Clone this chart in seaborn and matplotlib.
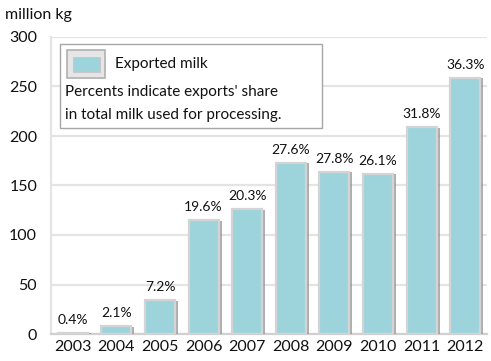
import matplotlib
matplotlib.use("Agg")
import matplotlib.pyplot as plt
import matplotlib.patheffects as pe
from matplotlib.patches import Rectangle
import seaborn as sns
import pandas as pd

years = ["2003", "2004", "2005", "2006", "2007", "2008", "2009", "2010", "2011", "2012"]
exported = [1.5, 8, 34, 115, 126, 173, 164, 162, 209, 259]
share_labels = ["0.4%", "2.1%", "7.2%", "19.6%", "20.3%", "27.6%", "27.8%", "26.1%", "31.8%", "36.3%"]

df = pd.DataFrame({"year": years, "exported": exported})

sns.set_theme(style="white")
plt.rcParams["font.family"] = ["Lato", "DejaVu Sans"]

fill = "#9dd4dc"
frame = "#d4d4d4"
ink = "#111111"

fig = plt.figure(figsize=(4.91, 3.61), dpi=100)
ax = fig.add_axes([51 / 491, 1 - 334 / 361, 436 / 491, 297 / 361])

sns.barplot(data=df, x="year", y="exported", color=fill, width=0.69,
            edgecolor=frame, linewidth=1.6, saturation=1, ax=ax, zorder=3)
for bar in ax.patches:
    bar.set_path_effects([pe.SimplePatchShadow(offset=(2.2, -0.5), shadow_rgbFace="#8c8c8c", alpha=0.7),
                          pe.Normal()])

for i, (v, lab) in enumerate(zip(exported, share_labels)):
    ax.annotate(lab, (i, v), xytext=(0, 5), textcoords="offset points",
                ha="center", va="bottom", fontsize=10, color=ink, zorder=5)

ax.set_xlim(-0.5, 9.5)
ax.set_ylim(0, 300)
ax.set_yticks([0, 50, 100, 150, 200, 250, 300])
ax.yaxis.grid(True, color="#e4e4e4", linewidth=1.6)
ax.set_axisbelow(True)
ax.set_xlabel("")
ax.set_ylabel("")
for s in ["top", "right"]:
    ax.spines[s].set_visible(False)
ax.spines["left"].set_color("#e4e4e4")
ax.spines["left"].set_linewidth(1.6)
ax.spines["bottom"].set_color("#d0d0d0")
ax.spines["bottom"].set_linewidth(1.6)
ax.tick_params(axis="both", length=0, colors=ink)
ax.tick_params(axis="y", pad=10, labelsize=11.5)
ax.tick_params(axis="x", pad=4, labelsize=11.5)

fig.text(5 / 491, 1 - 15 / 361, "million kg", fontsize=11.5, va="center", ha="left", color=ink)

# legend box with explanatory note
ax.add_patch(Rectangle((0.021, 0.694), 0.601, 0.282, transform=ax.transAxes,
                       facecolor="white", edgecolor="#a6a6a6", linewidth=1.0, zorder=6))
ax.add_patch(Rectangle((16 / 436, 1 - 41 / 297), 38 / 436, 28 / 297, transform=ax.transAxes,
                       facecolor="#e6e6e6", edgecolor="#b0b0b0", linewidth=1.2, zorder=7))
ax.add_patch(Rectangle((22 / 436, 1 - 35 / 297), 27 / 436, 15 / 297, transform=ax.transAxes,
                       facecolor=fill, edgecolor="#c8c8c8", linewidth=0.8, zorder=8))
ax.text(64 / 436, 1 - 27 / 297, "Exported milk", transform=ax.transAxes,
        fontsize=11, va="center", ha="left", color=ink, zorder=9)
ax.text(14 / 436, 1 - 55 / 297, "Percents indicate exports' share", transform=ax.transAxes,
        fontsize=11, va="center", ha="left", color=ink, zorder=9)
ax.text(14 / 436, 1 - 78 / 297, "in total milk used for processing.", transform=ax.transAxes,
        fontsize=11, va="center", ha="left", color=ink, zorder=9)

fig.savefig("out.png", dpi=100, facecolor="white")
